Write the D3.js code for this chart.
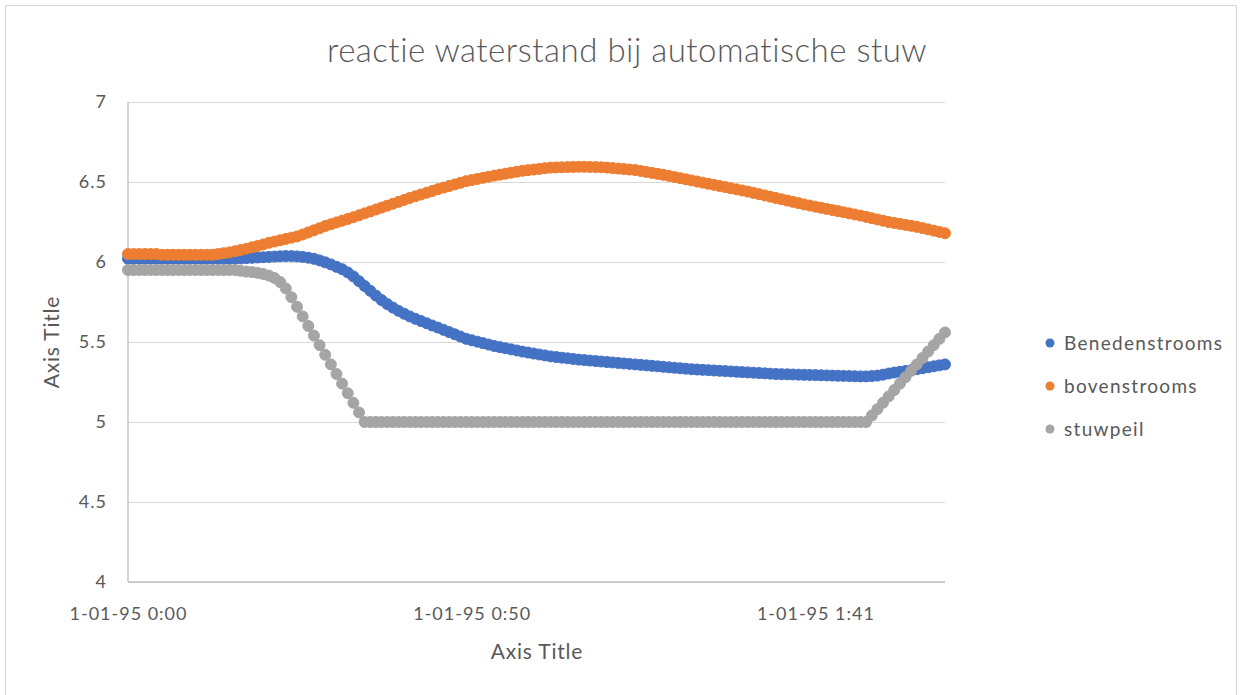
<!DOCTYPE html>
<html>
<head>
<meta charset="utf-8">
<script src="https://cdn.jsdelivr.net/npm/d3@7"></script>
<style>
  html, body { margin: 0; padding: 0; background: #ffffff; }
  svg { display: block; }
  text { font-family: Lato, "Open Sans", "Liberation Sans", sans-serif; fill: #595959; }
</style>
</head>
<body>
<svg id="chart" width="1248" height="695"></svg>
<script>
// Water levels, one reading per time step (time step index 0..145)
const benedenstrooms = [
  6.02, 6.02, 6.02, 6.02, 6.02, 6.02, 6.02, 6.02, 6.02, 6.02,
  6.02, 6.02, 6.02, 6.02, 6.02, 6.02, 6.02, 6.02, 6.02, 6.02,
  6.022, 6.024, 6.026, 6.028, 6.03, 6.032, 6.034, 6.036, 6.037, 6.037,
  6.035, 6.032, 6.027, 6.02, 6.01, 5.998, 5.985, 5.97, 5.955, 5.935,
  5.91, 5.88, 5.85, 5.82, 5.79, 5.762, 5.737, 5.715, 5.695, 5.677,
  5.66, 5.645, 5.631, 5.617, 5.603, 5.59, 5.576, 5.562, 5.548, 5.534,
  5.52, 5.511, 5.502, 5.493, 5.484, 5.475, 5.468, 5.461, 5.454, 5.447,
  5.44, 5.434, 5.428, 5.422, 5.416, 5.41, 5.406, 5.402, 5.398, 5.394,
  5.39, 5.387, 5.384, 5.381, 5.378, 5.375, 5.372, 5.369, 5.366, 5.363,
  5.36, 5.357, 5.354, 5.351, 5.348, 5.345, 5.342, 5.339, 5.336, 5.333,
  5.33, 5.328, 5.326, 5.324, 5.322, 5.32, 5.318, 5.316, 5.314, 5.312,
  5.31, 5.308, 5.306, 5.304, 5.302, 5.30, 5.299, 5.298, 5.297, 5.296,
  5.295, 5.294, 5.293, 5.292, 5.291, 5.29, 5.289, 5.288, 5.287, 5.286,
  5.285, 5.285, 5.287, 5.29, 5.296, 5.303, 5.309, 5.314, 5.319, 5.324,
  5.33, 5.336, 5.342, 5.348, 5.354, 5.36
];

const bovenstrooms = [
  6.05, 6.05, 6.05, 6.05, 6.05, 6.05, 6.045, 6.045, 6.045, 6.045,
  6.045, 6.045, 6.045, 6.045, 6.045, 6.045, 6.05, 6.055, 6.06, 6.067,
  6.075, 6.083, 6.092, 6.10, 6.11, 6.12, 6.128, 6.136, 6.144, 6.152,
  6.16, 6.172, 6.185, 6.198, 6.211, 6.225, 6.236, 6.247, 6.258, 6.269,
  6.28, 6.292, 6.304, 6.316, 6.328, 6.34, 6.352, 6.364, 6.376, 6.388,
  6.40, 6.411, 6.422, 6.433, 6.444, 6.455, 6.465, 6.475, 6.485, 6.495,
  6.505, 6.512, 6.519, 6.526, 6.533, 6.54, 6.546, 6.552, 6.558, 6.564,
  6.57, 6.574, 6.578, 6.582, 6.586, 6.59, 6.591, 6.592, 6.593, 6.594,
  6.595, 6.595, 6.594, 6.593, 6.592, 6.59, 6.587, 6.584, 6.581, 6.578,
  6.575, 6.569, 6.563, 6.557, 6.551, 6.545, 6.538, 6.531, 6.524, 6.517,
  6.51, 6.503, 6.496, 6.489, 6.482, 6.475, 6.468, 6.461, 6.454, 6.447,
  6.44, 6.432, 6.424, 6.416, 6.408, 6.40, 6.392, 6.384, 6.376, 6.368,
  6.36, 6.353, 6.346, 6.339, 6.332, 6.325, 6.318, 6.311, 6.304, 6.297,
  6.29, 6.282, 6.274, 6.266, 6.258, 6.25, 6.244, 6.238, 6.232, 6.226,
  6.22, 6.212, 6.204, 6.196, 6.188, 6.18
];

const stuwpeil = [
  5.95, 5.95, 5.95, 5.95, 5.95, 5.95, 5.95, 5.95, 5.95, 5.95,
  5.95, 5.95, 5.95, 5.95, 5.95, 5.95, 5.95, 5.95, 5.95, 5.95,
  5.945, 5.94, 5.937, 5.932, 5.925, 5.915, 5.90, 5.875, 5.835, 5.78,
  5.72, 5.66, 5.60, 5.54, 5.48, 5.42, 5.36, 5.30, 5.24, 5.18,
  5.12, 5.06, 5.00, 5, 5, 5, 5, 5, 5, 5,
  5, 5, 5, 5, 5, 5, 5, 5, 5, 5,
  5, 5, 5, 5, 5, 5, 5, 5, 5, 5,
  5, 5, 5, 5, 5, 5, 5, 5, 5, 5,
  5, 5, 5, 5, 5, 5, 5, 5, 5, 5,
  5, 5, 5, 5, 5, 5, 5, 5, 5, 5,
  5, 5, 5, 5, 5, 5, 5, 5, 5, 5,
  5, 5, 5, 5, 5, 5, 5, 5, 5, 5,
  5, 5, 5, 5, 5, 5, 5, 5, 5, 5,
  5, 5, 5.04, 5.08, 5.12, 5.16, 5.20, 5.24, 5.28, 5.32,
  5.36, 5.40, 5.44, 5.48, 5.52, 5.56
];

const seriesNames = ["Benedenstrooms", "bovenstrooms", "stuwpeil"];
const seriesColors = ["#4472C4", "#ED7D31", "#A5A5A5"];

const xTickIndex = [0, 61, 122];
const xTickLabels = ["1-01-95 0:00", "1-01-95 0:50", "1-01-95 1:41"];
const yTicks = [4, 4.5, 5, 5.5, 6, 6.5, 7];

const titleText = "reactie waterstand bij automatische stuw";
const axisTitleText = "Axis Title";

// ---- layout ----
const svg = d3.select("#chart");
const plot = { left: 128, top: 102, right: 945, bottom: 582 };

// chart frame
svg.append("rect")
  .attr("x", 5.5).attr("y", 5.5)
  .attr("width", 1231).attr("height", 700)
  .attr("fill", "#ffffff")
  .attr("stroke", "#d4d4d4")
  .attr("stroke-width", 1);

const x = d3.scaleLinear()
  .domain([0, benedenstrooms.length - 1])
  .range([plot.left, plot.right]);

const y = d3.scaleLinear()
  .domain([4, 7])
  .range([plot.bottom, plot.top]);

// horizontal gridlines + y tick labels
const yAxis = svg.append("g")
  .attr("transform", `translate(${plot.left},0)`)
  .call(d3.axisLeft(y)
    .tickValues(yTicks)
    .tickFormat(d3.format("~g"))
    .tickSize(-(plot.right - plot.left))
    .tickPadding(21));
yAxis.select(".domain").remove();
yAxis.selectAll(".tick line").attr("stroke", "#d9d9d9").attr("stroke-width", 1);
yAxis.selectAll(".tick text")
  .style("font-size", "18px")
  .style("letter-spacing", "1px")
  .attr("fill", "#595959");

// axis lines
svg.append("line")
  .attr("x1", plot.left).attr("x2", plot.left)
  .attr("y1", plot.top).attr("y2", plot.bottom)
  .attr("stroke", "#bfbfbf").attr("stroke-width", 1.3);
svg.append("line")
  .attr("x1", plot.left).attr("x2", plot.right)
  .attr("y1", plot.bottom).attr("y2", plot.bottom)
  .attr("stroke", "#bfbfbf").attr("stroke-width", 1.3);

// x tick labels
const xAxis = svg.append("g")
  .attr("transform", `translate(0,${plot.bottom})`)
  .call(d3.axisBottom(x)
    .tickValues(xTickIndex)
    .tickFormat((d, i) => xTickLabels[i])
    .tickSize(0)
    .tickPadding(25));
xAxis.select(".domain").remove();
xAxis.selectAll(".tick text")
  .style("font-size", "18px")
  .style("letter-spacing", "1px")
  .attr("fill", "#595959");

// series markers, drawn in series order
const allSeries = [benedenstrooms, bovenstrooms, stuwpeil];
allSeries.forEach((values, s) => {
  svg.append("g")
    .selectAll("circle")
    .data(values)
    .join("circle")
    .attr("cx", (d, i) => x(i))
    .attr("cy", d => y(d))
    .attr("r", 5.5)
    .attr("fill", seriesColors[s])
    .attr("stroke", seriesColors[s])
    .attr("stroke-width", 1);
});

// title
svg.append("text")
  .attr("x", 627).attr("y", 62)
  .attr("text-anchor", "middle")
  .style("font-size", "33px")
  .style("letter-spacing", "0.5px")
  .style("font-weight", "300")
  .text(titleText);

// axis titles
svg.append("text")
  .attr("x", 537).attr("y", 659)
  .attr("text-anchor", "middle")
  .style("font-size", "21px")
  .style("letter-spacing", "0.8px")
  .text(axisTitleText);

svg.append("text")
  .attr("transform", "translate(59,342) rotate(-90)")
  .attr("text-anchor", "middle")
  .style("font-size", "21px")
  .style("letter-spacing", "0.8px")
  .text(axisTitleText);

// legend
const legend = svg.append("g");
seriesNames.forEach((name, i) => {
  const cy = 343 + i * 43;
  legend.append("circle")
    .attr("cx", 1050).attr("cy", cy).attr("r", 4.5)
    .attr("fill", seriesColors[i]);
  legend.append("text")
    .attr("x", 1064).attr("y", cy)
    .attr("dy", "0.35em")
    .style("font-size", "19px")
    .style("letter-spacing", "1.3px")
    .text(name);
});
</script>
</body>
</html>
